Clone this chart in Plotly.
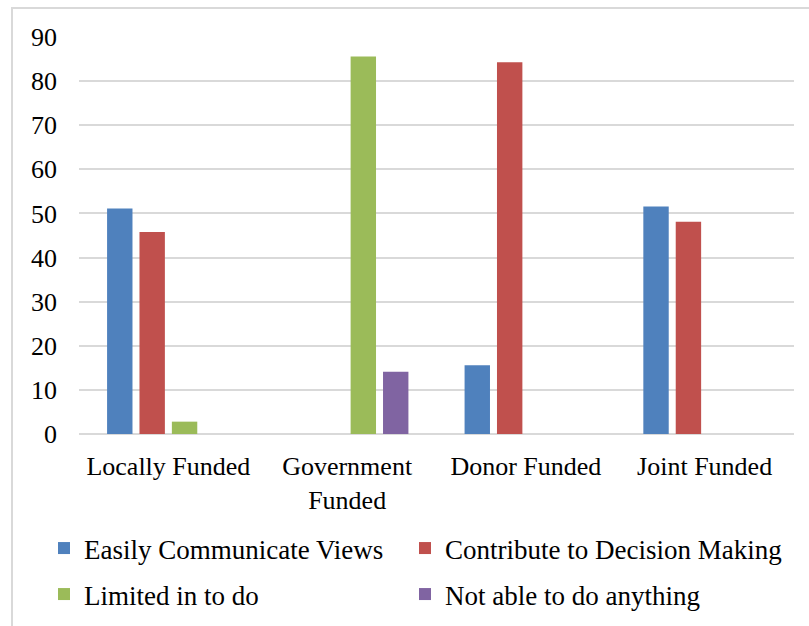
import plotly.graph_objects as go

categories = ["Locally Funded", "Government<br>Funded", "Donor Funded", "Joint Funded"]
series_names = ["Easily Communicate Views", "Contribute to Decision Making",
                "Limited in to do", "Not able to do anything"]
easily_communicate = [51.1, 0, 15.6, 51.6]
contribute_decision = [45.8, 0, 84.3, 48.1]
limited = [2.8, 85.6, 0, 0]
not_able = [0, 14.1, 0, 0]
colors = ["#4f81bd", "#c0504d", "#9bbb59", "#8064a2"]
y_ticks = [0, 10, 20, 30, 40, 50, 60, 70, 80, 90]

FONT = "Liberation Serif"
W, H = 809, 626
L, R, T, B = 79, 15, 37, 192
pw, ph = W - L - R, H - T - B

def px2paper_x(px):
    return (px - L) / pw

def px2paper_y(py):
    return (H - B - py) / ph

values = [easily_communicate, contribute_decision, limited, not_able]
legend_ids = ["legend", "legend2", "legend3", "legend4"]
legend_pos = [(44, 524), (405, 524), (44, 570), (405, 570)]

fig = go.Figure()
for name, vals, col, lg in zip(series_names, values, colors, legend_ids):
    fig.add_trace(go.Bar(
        x=categories, y=vals, name=name,
        marker=dict(color=col, line=dict(width=0)),
        legend=lg,
    ))

legend_common = dict(orientation="h", xanchor="left", yanchor="top",
                     font=dict(family=FONT, size=27, color="#000000"),
                     bgcolor="rgba(0,0,0,0)", itemclick=False)

legend_layout = {}
for lg, (lx, ly) in zip(legend_ids, legend_pos):
    legend_layout[lg] = dict(x=px2paper_x(lx), y=px2paper_y(ly), **legend_common)

fig.update_layout(
    width=W, height=H,
    margin=dict(l=L, r=R, t=T, b=B, pad=0, autoexpand=False),
    paper_bgcolor="white", plot_bgcolor="white",
    barmode="group", bargap=0.275, bargroupgap=0.216,
    font=dict(family=FONT, size=26, color="#000000"),
    xaxis=dict(showgrid=False, showline=False, zeroline=False,
               ticks="", ticklabelstandoff=14,
               tickfont=dict(family=FONT, size=26, color="#000000")),
    yaxis=dict(range=[0, 90], tickvals=y_ticks, showgrid=True,
               gridcolor="#d9d9d9", gridwidth=1.5,
               zeroline=True, zerolinecolor="#d9d9d9", zerolinewidth=1.5,
               showline=False, ticks="", ticklabelstandoff=21,
               tickfont=dict(family=FONT, size=26, color="#000000")),
    showlegend=True,
    **legend_layout,
)

fig.add_shape(type="rect", xref="paper", yref="paper",
              x0=px2paper_x(12), x1=px2paper_x(830),
              y0=px2paper_y(660), y1=px2paper_y(8),
              line=dict(color="#d9d9d9", width=2), fillcolor="rgba(0,0,0,0)",
              layer="below")

fig.write_html("out.html")
